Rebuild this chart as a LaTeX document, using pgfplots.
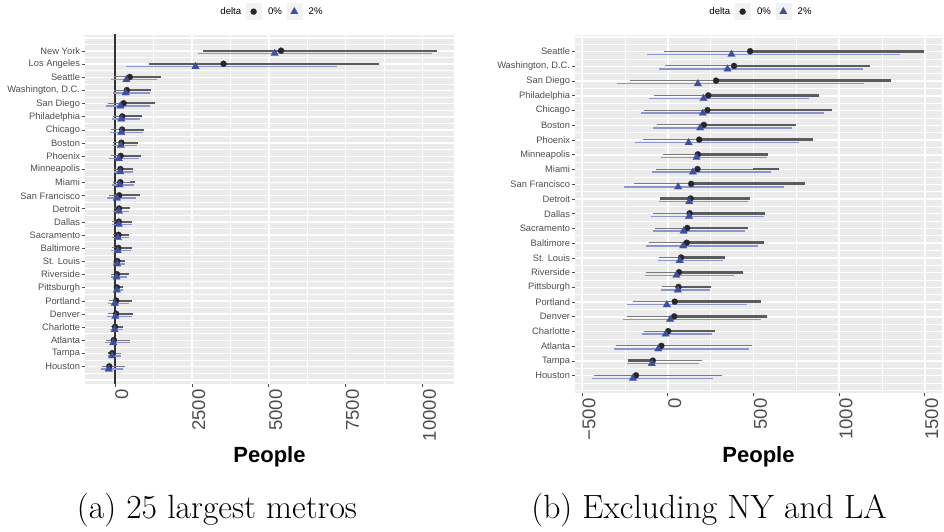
\documentclass[border=0pt]{standalone}
\usepackage{fontspec}
\usepackage{pgfplots}
\usepackage{pgfplotstable}
\pgfplotsset{compat=1.18}
\newfontfamily\arial{Liberation Sans}
\definecolor{ggbg}{HTML}{EBEBEB}
\definecolor{legkey}{HTML}{F2F2F2}
\definecolor{ptblack}{HTML}{262626}
\definecolor{thickc}{HTML}{5C5C5C}
\definecolor{thinc}{HTML}{7A7A7A}
\definecolor{blpt}{HTML}{3E4FA0}
\definecolor{blline}{HTML}{8C95D1}
\definecolor{zeroc}{HTML}{333333}
\definecolor{labc}{HTML}{4D4D4D}

% name order: NY first, LA second (skipped in panel b)
\pgfplotstableread{
idx p0 l0 h0 tl th p2 l2 h2
25 5398 2873 10461 2873 10461 5190 2700 10318
24 3528 1105 8584 1105 8584 2617 368 7208
23 480 -23 1495 480 1495 371 -119 1355
22 386 -17 1182 386 1182 348 -52 1136
21 281 -219 1303 281 1303 175 -298 1142
20 236 -79 882 236 882 208 -108 823
19 231 -137 957 231 957 204 -156 909
18 210 -65 750 210 750 188 -85 723
17 183 -144 848 183 848 121 -192 765
16 175 -29 582 175 582 167 -38 579
15 173 -67 650 496 650 146 -90 604
14 136 -198 802 136 802 60 -254 679
13 133 -44 480 -44 480 125 -50 469
12 127 -88 567 127 567 123 -96 559
11 113 -73 469 113 469 92 -88 452
10 110 -113 561 110 561 90 -129 527
9 77 -50 331 77 331 69 -58 319
8 65 -125 440 65 440 50 -131 388
7 62 -37 254 62 254 58 -42 248
6 40 -206 542 40 542 -6 -240 461
5 37 -236 579 37 579 13 -260 542
4 2 -138 273 2 273 -13 -152 260
3 -38 -304 492 -38 -38 -56 -315 475
2 -88 -235 200 -235 -88 -94 -238 184
1 -186 -431 313 -186 -186 -204 -444 265
}\datatab

\pgfplotsset{
  ggpanel/.style={
    scale only axis,
    scaled x ticks=false,
    axis x line*=bottom, axis y line*=left,
    axis line style={draw=none},
    axis background/.style={fill=ggbg},
    tick align=outside,
    major tick length=2.5pt,
    minor tick length=0pt,
    tick style={color=gray!60!black, line width=0.6pt},
    xmajorgrids, ymajorgrids, xminorgrids, yminorgrids,
    major grid style={white, line width=1.1pt},
    minor grid style={white, line width=0.55pt},
    extra y tick style={grid=major, major tick length=0pt},
    yticklabel style={font=\arial\fontsize{7}{8}\selectfont, text=labc, inner sep=1pt},
    xticklabel style={font=\arial\fontsize{13.9}{15}\selectfont, text=labc, rotate=90, anchor=north east, inner xsep=1.5pt, inner ysep=0pt},
    xlabel={People},
    legend columns=-1,
    legend style={at={(axis description cs:0.5,1)}, anchor=center, yshift=17.5pt,
      draw=none, fill=none, font=\arial\fontsize{7.2}{8}\selectfont, inner sep=0pt,
      /tikz/every even column/.append style={column sep=1.5pt},
      /tikz/every odd column/.append style={column sep=3pt}},
  },
  keyimg/.style={legend image code/.code={\fill[legkey] (-5.6pt,-6pt) rectangle (5.6pt,6pt); \draw plot coordinates {(0pt,0pt)};}},
  circmark/.style={only marks, color=ptblack, mark=*, mark size=2.3pt, mark options={solid, line width=0.1pt, draw=ptblack, fill=ptblack}},
  trimark/.style={only marks, color=blpt, mark=triangle*, mark size=3.3pt, mark options={solid, line width=0.1pt, draw=blpt, fill=blpt}},
  ebar/.style={forget plot, draw=none, mark=none},
}

\newcommand{\panelplots}[2]{%
  % zero line
  \addplot[forget plot, line width=0.8pt, color=zeroc, mark=none] coordinates {(0,-2) (0,30)};
  % black thin interval
  \addplot[ebar, error bars/.cd, x dir=both, x explicit, error mark=none,
    error bar style={line width=0.7pt, draw=thinc}]
    table[x=p0, y expr=\thisrow{idx}+0.03, x error plus expr=\thisrow{h0}-\thisrow{p0}, x error minus expr=\thisrow{p0}-\thisrow{l0}] {\datatab};
  % black thick interval
  \addplot[ebar, error bars/.cd, x dir=plus, x explicit, error mark=none,
    error bar style={line width=#1, draw=thickc}]
    table[x=tl, y expr=\thisrow{idx}+0.03, x error plus expr=\thisrow{th}-\thisrow{tl}] {\datatab};
  % blue interval
  \addplot[ebar, error bars/.cd, x dir=both, x explicit, error mark=none,
    error bar style={line width=#2, draw=blline}]
    table[x=p2, y expr=\thisrow{idx}-0.18, x error plus expr=\thisrow{h2}-\thisrow{p2}, x error minus expr=\thisrow{p2}-\thisrow{l2}] {\datatab};
  % points
  \addplot[forget plot, circmark] table[x=p0, y expr=\thisrow{idx}+0.03] {\datatab};
  \addplot[forget plot, trimark] table[x=p2, y expr=\thisrow{idx}-0.18] {\datatab};
  % legend
  \addlegendimage{empty legend}\addlegendentry{delta}
  \addlegendimage{circmark, keyimg}\addlegendentry{0\%}
  \addlegendimage{trimark, keyimg}\addlegendentry{2\%}
}

\begin{document}
\begin{tikzpicture}
\begin{axis}[ggpanel,
  at={(63.75pt,110.25pt)}, anchor=south west,
  width=276.75pt, height=261.75pt,
  xmin=-975, xmax=11020, ymin=-0.315, ymax=26.22,
  xtick={0,2500,5000,7500,10000},
  xticklabels={0,2500,5000,7500,10000},
  minor xtick={1250,3750,6250,8750},
  ytick={1,...,25},
  yticklabels={Houston,Tampa,Atlanta,Charlotte,Denver,Portland,Pittsburgh,Riverside,St. Louis,Baltimore,Sacramento,Dallas,Detroit,San Francisco,Miami,Minneapolis,Phoenix,Boston,Chicago,Philadelphia,San Diego,{Washington, D.C.},Seattle,Los Angeles,New York},
  minor ytick={0.5,1.5,...,25.5},
  extra y ticks={0,26}, extra y tick labels={},
  xlabel style={font=\arial\bfseries\fontsize{16.5}{18}\selectfont, at={(axis description cs:0.5,0)}, anchor=base, yshift=-58.9pt},
]
\panelplots{1.5pt}{1.1pt}
\end{axis}

\begin{axis}[ggpanel,
  at={(431.25pt,103.5pt)}, anchor=south west,
  width=275.25pt, height=268.5pt,
  skip coords between index={0}{2},
  xmin=-542, xmax=1600, ymin=-0.17, ymax=24.13,
  xtick={-500,0,500,1000,1500},
  xticklabels={−500,0,500,1000,1500},
  minor xtick={-250,250,750,1250},
  ytick={1,...,23},
  yticklabels={Houston,Tampa,Atlanta,Charlotte,Denver,Portland,Pittsburgh,Riverside,St. Louis,Baltimore,Sacramento,Dallas,Detroit,San Francisco,Miami,Minneapolis,Phoenix,Boston,Chicago,Philadelphia,San Diego,{Washington, D.C.},Seattle},
  minor ytick={0.5,1.5,...,23.5},
  extra y ticks={0,24}, extra y tick labels={},
  xlabel style={font=\arial\bfseries\fontsize{16.5}{18}\selectfont, at={(axis description cs:0.5,0)}, anchor=base, yshift=-51.75pt},
]
\panelplots{2pt}{1.1pt}
\end{axis}

\node[anchor=base, font=\fontsize{25.2}{30}\selectfont] at (162.75pt,9.75pt) {(a) 25 largest metros};
\node[anchor=base, font=\fontsize{25.2}{30}\selectfont] at (531.75pt,9.75pt) {(b) Excluding NY and LA};
\pgfresetboundingbox
\path[use as bounding box] (0,0) rectangle (708pt,398.25pt);
\end{tikzpicture}
\end{document}
